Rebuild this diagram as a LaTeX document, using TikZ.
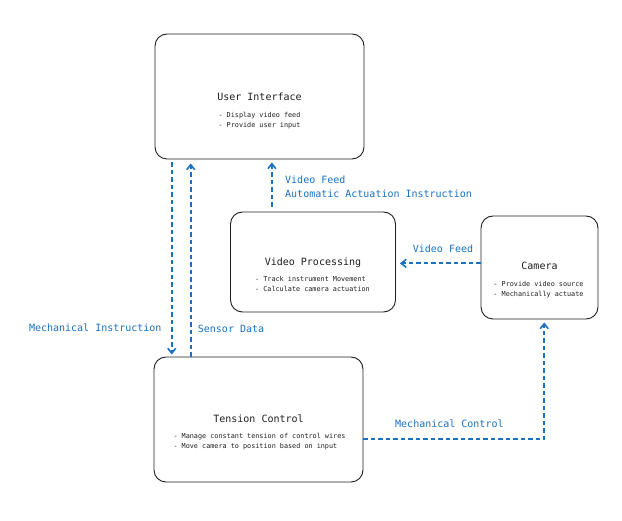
\documentclass[tikz,border=0pt]{standalone}
\usepackage{fontspec}
\newfontfamily\monof{DejaVu Sans Mono}
\usetikzlibrary{arrows.meta,calc}
\definecolor{exblue}{HTML}{1971C2}
\definecolor{exdark}{HTML}{1E1E1E}
\tikzset{
  box/.style={draw=exdark, line width=0.9pt, rounded corners=12pt, inner sep=0pt},
  ttl/.style={font=\monof\fontsize{10}{12}\selectfont, text=exdark, inner sep=0pt, text height=7pt, text depth=0pt},
  bul/.style={font=\monof\fontsize{6.8}{10}\selectfont, text=exdark, inner sep=0pt, align=left},
  lbl/.style={font=\monof\fontsize{10}{14}\selectfont, text=exblue, inner sep=0pt, align=left},
  conn/.style={draw=exblue, line width=1.7pt, dash pattern=on 4.5pt off 3pt, -{Straight Barb[length=5pt,width=8pt,line width=1.6pt]}},
}
\begin{document}
\begin{tikzpicture}[x=1pt,y=-1pt]
\useasboundingbox (0,0) rectangle (622,521);
% boxes
\node[box, minimum width=209pt, minimum height=125pt] (ui) at (259.5,96.5) {};
\node[box, minimum width=165pt, minimum height=100pt] (vp) at (313,262) {};
\node[box, minimum width=117pt, minimum height=103pt] (cam) at (539.5,267.5) {};
\node[box, minimum width=209pt, minimum height=125pt] (tc) at (258.5,419.5) {};
% titles
\node[ttl] (uit) at (259.5,97) {User Interface};
\node[bul] (uib) at (259.5,120.5) {- Display video feed\\- Provide user input};
\node[ttl] (vpt) at (313,262) {Video Processing};
\node[bul] (vpb) at (312.5,283.5) {- Track instrument Movement\\- Calculate camera actuation};
\node[ttl] (camt) at (539.5,266) {Camera};
\node[bul] (camb) at (538.5,289.5) {- Provide video source\\- Mechanically actuate};
\node[ttl] (tct) at (258.5,419) {Tension Control};
\node[bul] (tcb) at (259.5,442) {- Manage constant tension of control wires\\- Move camera to position based on input};
% connectors
\coordinate (mi) at ($(ui.south west)!0.082!(ui.south east)$);
\draw[conn, shorten <=3pt, shorten >=2pt] (mi) -- (mi |- tc.north);
\coordinate (sd) at ($(tc.north west)!0.177!(tc.north east)$);
\draw[conn, shorten >=4pt] (sd) -- (sd |- ui.south);
\coordinate (vf) at ($(vp.north west)!0.2521!(vp.north east)$);
\draw[conn, shorten <=5pt, shorten >=3pt] (vf) -- (vf |- ui.south);
\coordinate (cf) at ($(cam.north west)!0.46!(cam.south west)$);
\draw[conn, shorten >=4pt] (cf) -- (cf -| vp.east);
\coordinate (mc) at ($(tc.north east)!0.657!(tc.south east)$);
\coordinate (mcx) at ($(cam.south west)!0.54!(cam.south east)$);
\draw[conn, shorten >=3pt] (mc) -- (mc -| mcx) -- (mcx);
% labels
\node[lbl, anchor=east, text height=7pt, text depth=0pt] (lmi) at (161.7,328.3) {Mechanical Instruction};
\node[lbl, anchor=west, text height=7pt, text depth=0pt] (lsd) at (197.7,329) {Sensor Data};
\node[lbl, anchor=north west] (lvf) at (285,176) {Video Feed\\Automatic Actuation Instruction};
\node[lbl, anchor=west, text height=7pt, text depth=0pt] (lcf) at (412.7,249.3) {Video Feed};
\node[lbl, anchor=west, text height=7pt, text depth=0pt] (lmc) at (395,424) {Mechanical Control};
\end{tikzpicture}
\end{document}
